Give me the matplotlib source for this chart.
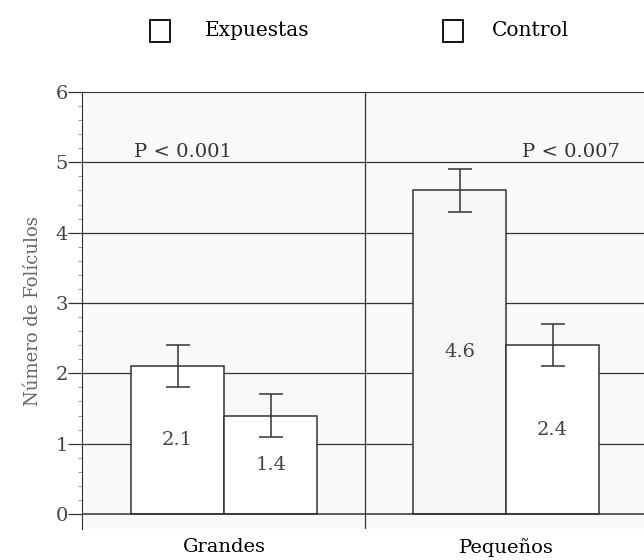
import numpy as np
import matplotlib.pyplot as plt
from matplotlib.patches import Rectangle

plt.rcParams['font.family'] = ['DejaVu Serif']

categorias = ['Grandes', 'Pequeños']
expuestas = [2.1, 4.6]
control = [1.4, 2.4]
err_exp = [0.3, 0.3]
err_ctl = [0.3, 0.3]
p_labels = ['P < 0.001', 'P < 0.007']

ink = '#333333'
fig = plt.figure(figsize=(6.44, 5.6), dpi=100)
ax = fig.add_axes([0.1273, 0.0545, 0.8727, 0.7812])
ax.set_facecolor('#f9f9f9')

x = np.arange(len(categorias))
w = 0.33

# grid lines behind the bars
for yv in range(1, 6):
    ax.axhline(yv, color=ink, lw=0.9, zorder=0)
ax.axhline(0, color=ink, lw=1.1, zorder=3)
ax.axvline(0.5, color=ink, lw=0.9, zorder=0)

b1 = ax.bar(x - w / 2, expuestas, w, color=['white', '#f6f6f6'], edgecolor=ink, lw=1.1, zorder=2)
b2 = ax.bar(x + w / 2, control, w, color='white', edgecolor=ink, lw=1.1, zorder=2)
ax.errorbar(x - w / 2, expuestas, yerr=err_exp, fmt='none', ecolor=ink, elinewidth=1.1,
            capsize=8.5, capthick=1.1, zorder=4)
ax.errorbar(x + w / 2, control, yerr=err_ctl, fmt='none', ecolor=ink, elinewidth=1.1,
            capsize=8.5, capthick=1.1, zorder=4)

for bars, vals in ((b1, expuestas), (b2, control)):
    for b, v in zip(bars, vals):
        ax.text(b.get_x() + b.get_width() / 2, v / 2, f'{v:.1f}', ha='center', va='center',
                fontsize=14, color='#444444', zorder=5)

ax.text(x[0] - w + 0.01, 5.15, p_labels[0], ha='left', va='center', fontsize=14, color=ink)
ax.text(x[1] + 0.23, 5.15, p_labels[1], ha='center', va='center', fontsize=14, color=ink)

ax.set_xlim(-0.504, 1.489)
ax.set_ylim(-0.22, 6)
ax.set_yticks(range(0, 7))
ax.set_yticks(np.arange(0, 6.01, 0.2), minor=True)
ax.set_xticks(x)
ax.set_xticklabels(categorias)
ax.tick_params(axis='x', length=0, pad=6, labelsize=14, labelcolor='black')
ax.tick_params(axis='y', which='major', length=10, width=0.9, color=ink, labelsize=14,
               labelcolor='#444444', pad=0)
ax.tick_params(axis='y', which='minor', length=3, width=0.6, color='#888888')
ax.set_ylabel('Número de Folículos', fontsize=13, color='#666666', labelpad=10)

for s in ('right', 'bottom'):
    ax.spines[s].set_visible(False)
ax.spines['left'].set_color(ink)
ax.spines['top'].set_color(ink)
ax.spines['top'].set_position(('data', 6))

# legend at the top
for sx, tx, label in ((150, 205, 'Expuestas'), (443, 492, 'Control')):
    fig.add_artist(Rectangle((sx / 644, 1 - 42 / 560), 20 / 644, 22 / 560, transform=fig.transFigure,
                             facecolor='white', edgecolor='black', lw=1.3))
    fig.text(tx / 644, 1 - 31 / 560, label, ha='left', va='center', fontsize=14.5, color='black')

fig.savefig('out.png', dpi=100)
